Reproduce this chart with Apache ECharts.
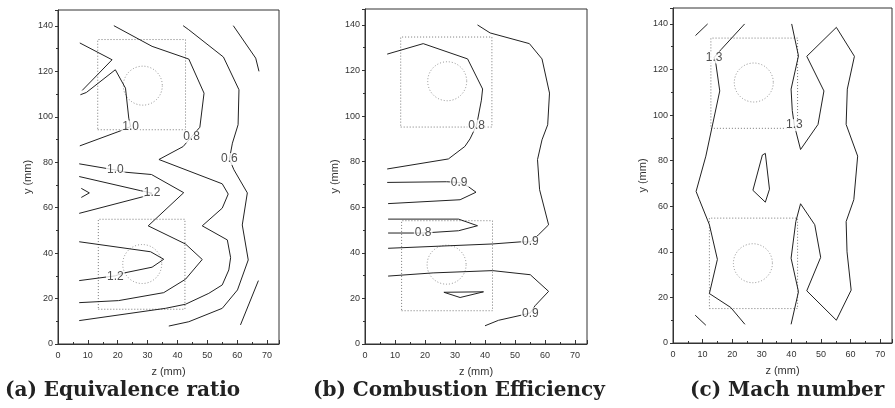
<!DOCTYPE html>
<html>
<head>
<meta charset="utf-8">
<script src="https://cdn.jsdelivr.net/npm/echarts@6/dist/echarts.min.js"></script>
<style>
  html, body { margin: 0; padding: 0; background: #fff; }
  #chart { width: 895px; height: 408px; }
</style>
</head>
<body>
<div id="chart"></div>
<script>
// contour lines, [z, y] in mm

// (a) equivalence ratio
var a_phi08 = [[18.7,140.1],[31.5,131],[43.8,125.4],[48.9,110.4],[47.5,95.4],[44.7,91.2],[41.9,86.9],[33.8,81.2],[55,70.5],[57,66],[55,59.8],[48.3,52],[56.7,45.8],[57.8,38],[57.2,32.6],[55,26],[50.5,22.3],[42.7,17.5],[36,15.7],[7.1,10.3]];
var a_phi06 = [[41.9,140.1],[43.8,138.3],[55.4,126.3],[60.6,111.9],[60.3,96.5],[58.4,88.4],[57.4,81.4],[58.9,76.7],[63.4,66.5],[61.7,52.4],[63.7,37],[60.1,23.8],[55,15.7],[43.8,9.8],[37.1,7.9]];
var a_topRight = [[58.7,140.1],[66.2,125.8],[67.3,120]];
var a_botRight = [[61.1,8.4],[67.1,27.9]];
var a_phi10up = [[7.5,109.7],[9.5,110.7],[19.2,120.7],[22.6,112.6],[23.7,99.4],[24.3,95.7],[20.9,93.8],[7.3,87.2]];
var a_vee = [[7.3,132.5],[18.1,125.1],[8.1,111.6]];
var a_phi10mid = [[7.1,79.3],[19.2,76.6],[22.6,75.6],[31.3,74.6],[42.1,66.6],[30.2,52],[42.7,44],[48.3,37.2],[42.7,28.5],[35.4,22.6],[20.3,19.1],[7.1,18.2]];
var a_phi12mid = [[7.1,73.7],[27.6,67.5],[31.5,66.4],[28.7,64.9],[7.1,57.5]];
var a_small = [[7.8,68.5],[10.5,66.5],[7.8,64.5]];
var a_phi12low = [[7.1,45],[31,40.6],[35.4,37.3],[31.5,33.8],[21.5,31.1],[19.2,30],[7.1,27.9]];
var a_labels = [['1.0',24.3,95.7],['0.8',44.7,91.2],['0.6',57.4,81.4],['1.0',19.2,76.6],['1.2',31.5,66.4],['1.2',19.2,29.6]];
var a_rects = [[13.3,94.3,42.7,134],[13.5,15.3,42.5,54.9]];
var a_holes = [[28.4,113.7],[28.2,35.2]];

// (b) combustion efficiency
var b_eta08up = [[7.4,127.2],[19.4,131.8],[34.2,125.1],[39.2,111.9],[38.8,107],[37.2,96],[35,90],[33.3,86.7],[27.8,81.2],[7.4,76.8]];
var b_eta09right = [[37.5,140],[41.7,136.5],[54.8,131.8],[59,125.1],[61.5,110.1],[60.9,96.2],[59,89.6],[57.5,80.9],[58.2,67.7],[61.2,52.3],[57.9,48],[55.1,44.8],[51.7,44.8],[42.5,43.9],[7.7,42]];
var b_eta09mid = [[7.4,70.9],[27.2,71.2],[31.4,70.9],[34.5,69],[37,66.6],[31.7,63.3],[7.7,61.6]];
var b_eta08low = [[7.7,54.8],[31.2,54.8],[37.5,51.9],[31.2,49.7],[19.4,48.7],[7.7,48.7]];
var b_eta09low = [[7.7,29.8],[22.7,31.2],[42.5,32.2],[55.1,30.4],[61.2,23.1],[56.7,16.8],[55,13.6],[52.3,12.7],[44.5,10.4],[40,8]];
var b_diamond = [[26.3,22.7],[39.5,22.9],[31.7,20.4],[26.3,22.7]];
var b_labels = [['0.8',37.2,95.8],['0.9',55.1,44.8],['0.9',31.4,70.9],['0.8',19.4,48.7],['0.9',55.1,13.4]];
var b_rects = [[11.9,95.2,42.3,134.7],[12.2,14.6,42.5,54.1]];
var b_holes = [[27.4,115.3],[27.2,34.8]];

// (c) mach number
var c_seg1 = [[7.6,134.9],[11.7,140]];
var c_left = [[24.2,140],[16.2,128.7],[13.9,125.3],[14.5,122.4],[15.8,110.6],[11.1,82],[7.8,66.5],[8.9,62.9],[12.3,51.9],[15,36.7],[12.3,21.7],[19.5,15.6],[24.3,8.2]];
var c_seg2 = [[7.5,12.2],[11.1,7.8]];
var c_right = [[40.1,140],[42.4,126],[39.9,111.4],[40.3,102],[41,95.6],[43.1,84.9],[49,95.9],[51,110.6],[45.2,125.8],[55.2,138.5],[61.3,125.8],[58.9,111.4],[58.5,95.9],[62.4,82],[61.1,62.9],[58.5,53.3],[58.8,40],[60.2,23.2],[55.2,10],[45.2,22.9],[49.9,37.6],[47.9,51.9],[43.1,61.1],[41.5,53.3],[39.9,37.2],[42.4,22.5],[39.9,8.2]];
var c_blob = [[30.2,82.5],[31.2,83.2],[32.6,67.5],[31.2,61.8],[27,67],[30.2,82.5]];
var c_labels = [['1.3',13.9,125.3],['1.3',41,95.6]];
var c_rects = [[12.8,94.2,42.1,133.8],[12.3,15.1,42.1,54.8]];
var c_holes = [[27.3,114.3],[27,35]];

var titles = ['(a) Equivalence ratio', '(b) Combustion Efficiency', '(c) Mach number'];
var xTicks = [0, 10, 20, 30, 40, 50, 60, 70];
var yTicks = [0, 20, 40, 60, 80, 100, 120, 140];

var panels = [
  { lines: [a_phi08, a_phi06, a_topRight, a_botRight, a_phi10up, a_vee, a_phi10mid, a_phi12mid, a_small, a_phi12low],
    labels: a_labels, rects: a_rects, holes: a_holes,
    grid: { left: 58, top: 10, width: 221, height: 334 }, titleLeft: 5 },
  { lines: [b_eta08up, b_eta09right, b_eta09mid, b_eta08low, b_eta09low, b_diamond],
    labels: b_labels, rects: b_rects, holes: b_holes,
    grid: { left: 365, top: 9, width: 222, height: 335 }, titleLeft: 313 },
  { lines: [c_seg1, c_left, c_seg2, c_right, c_blob],
    labels: c_labels, rects: c_rects, holes: c_holes,
    grid: { left: 673, top: 8, width: 221, height: 335 }, titleLeft: 690 }
];

var axisColor = '#333';
var grids = [], xAxes = [], yAxes = [], series = [], titleList = [];

panels.forEach(function (p, i) {
  grids.push(Object.assign({ show: true, borderColor: axisColor, borderWidth: 1 }, p.grid));

  xAxes.push({
    gridIndex: i, type: 'value', min: 0, max: 74, interval: 10,
    name: 'z (mm)', nameLocation: 'middle', nameGap: 22,
    nameTextStyle: { fontSize: 11, color: '#333', fontFamily: 'Liberation Sans' },
    axisLine: { lineStyle: { color: axisColor } },
    axisTick: { inside: true, length: 4, lineStyle: { color: axisColor } },
    minorTick: { show: true, splitNumber: 2, length: 2, lineStyle: { color: axisColor } },
    splitLine: { show: false },
    axisLabel: { fontSize: 9, color: '#333', margin: 7, fontFamily: 'Liberation Sans',
      formatter: function (v) { return xTicks.indexOf(v) >= 0 ? v : ''; } }
  });
  yAxes.push({
    gridIndex: i, type: 'value', min: 0, max: 147, interval: 20,
    name: 'y (mm)', nameLocation: 'middle', nameGap: 25, nameRotate: 90,
    nameTextStyle: { fontSize: 11, color: '#333', fontFamily: 'Liberation Sans' },
    axisLine: { lineStyle: { color: axisColor } },
    axisTick: { length: 3, lineStyle: { color: axisColor } },
    minorTick: { show: true, splitNumber: 2, length: 2, lineStyle: { color: axisColor } },
    splitLine: { show: false },
    axisLabel: { fontSize: 9, color: '#333', margin: 5, fontFamily: 'Liberation Sans',
      formatter: function (v) { return yTicks.indexOf(v) >= 0 ? v : ''; } }
  });

  p.lines.forEach(function (pts) {
    series.push({
      type: 'line', xAxisIndex: i, yAxisIndex: i, data: pts,
      symbol: 'none', silent: true, z: 3,
      lineStyle: { color: '#222', width: 1 }
    });
  });

  // injector squares
  p.rects.forEach(function (r) {
    series.push({
      type: 'line', xAxisIndex: i, yAxisIndex: i, symbol: 'none', silent: true, z: 2,
      data: [[r[0], r[1]], [r[2], r[1]], [r[2], r[3]], [r[0], r[3]], [r[0], r[1]]],
      lineStyle: { color: '#777', width: 1, type: [1, 2] }
    });
  });

  // injector holes
  series.push({
    type: 'scatter', xAxisIndex: i, yAxisIndex: i, silent: true, z: 2,
    data: p.holes, symbol: 'circle', symbolSize: 39,
    itemStyle: { color: 'transparent', borderColor: '#777', borderWidth: 1, borderType: [1, 2] }
  });

  // contour labels
  series.push({
    type: 'scatter', xAxisIndex: i, yAxisIndex: i, silent: true, z: 5,
    data: p.labels.map(function (l) { return { name: l[0], value: [l[1], l[2]] }; }),
    symbolSize: 1, itemStyle: { color: 'transparent' },
    label: {
      show: true, position: 'inside', formatter: '{b}',
      fontSize: 12, color: '#222', fontFamily: 'Liberation Sans',
      backgroundColor: '#fff', padding: [0, 1]
    }
  });

  titleList.push({
    text: titles[i], left: p.titleLeft, top: 381, padding: 0,
    textStyle: { fontFamily: 'DejaVu Serif', fontWeight: 'bold', fontSize: 20, color: '#222' }
  });
});

var chart = echarts.init(document.getElementById('chart'));
chart.setOption({
  animation: false,
  backgroundColor: '#fff',
  title: titleList,
  grid: grids,
  xAxis: xAxes,
  yAxis: yAxes,
  series: series
});
</script>
</body>
</html>
